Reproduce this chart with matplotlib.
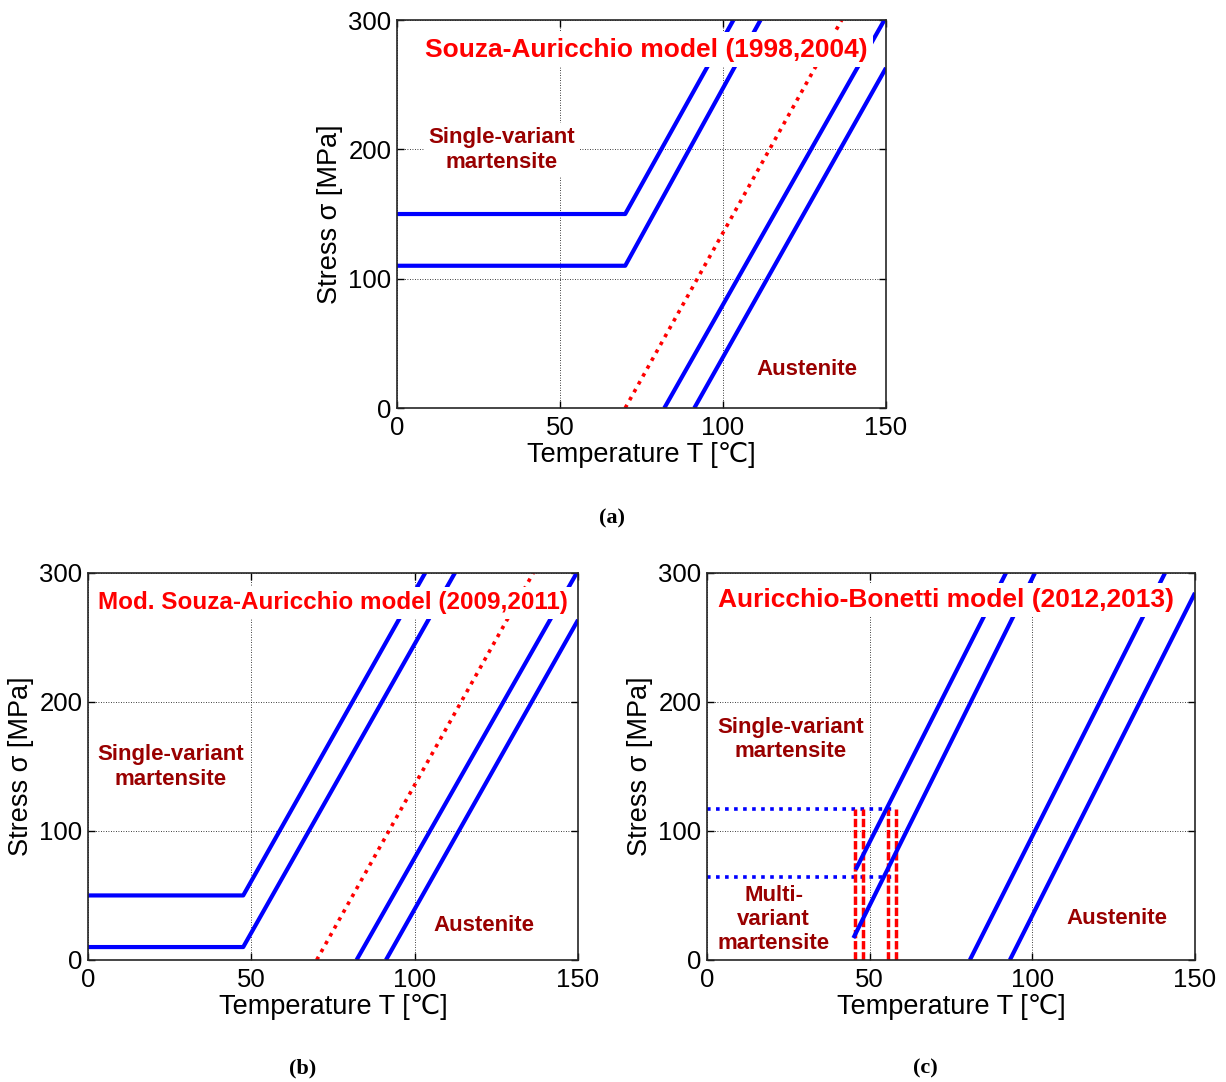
import matplotlib
matplotlib.use('Agg')
import matplotlib.pyplot as plt

plt.rcParams['font.family'] = ['Liberation Sans', 'DejaVu Sans']

# ---- data (T in degC, stress in MPa) ----
# panel (a) Souza-Auricchio
a_up_T = [0, 70, 103.2]
a_up_s = [150, 150, 300]
a_lo_T = [0, 70, 111.5]
a_lo_s = [110, 110, 300]
a_red_T = [70, 136.4]
a_red_s = [0, 300]
a_af_T = [82.0, 149.5]
a_af_s = [0, 300]
a_as_T = [91.2, 150]
a_as_s = [0, 263]

# panel (b) modified Souza-Auricchio
b_up_T = [0, 47.5, 103.2]
b_up_s = [50, 50, 300]
b_lo_T = [0, 47.5, 112.3]
b_lo_s = [10, 10, 300]
b_red_T = [70, 136.3]
b_red_s = [0, 300]
b_af_T = [82.2, 149.6]
b_af_s = [0, 300]
b_as_T = [91.2, 150]
b_as_s = [0, 263.6]

# panel (c) Auricchio-Bonetti
c_up_T = [45.7, 91.9]
c_up_s = [70, 300]
c_lo_T = [45.0, 100.8]
c_lo_s = [17, 300]
c_af_T = [80.8, 140.8]
c_af_s = [0, 300]
c_as_T = [93.1, 150]
c_as_s = [0, 284.5]
c_hdot_s = [117, 64]          # blue dotted levels
c_hdot_T = [0, 57.8]
c_vdash_T = [45.5, 48.0, 55.7, 58.1]   # red dashed verticals
c_vdash_s = [0, 117]

xticks = [0, 50, 100, 150]
yticks = [0, 100, 200, 300]

BLUE = '#0000ff'
RED = '#ff0000'
DRED = '#990000'


def setup_ax(ax):
    ax.set_xlim(0, 150)
    ax.set_ylim(0, 300)
    ax.set_xticks(xticks)
    ax.set_yticks(yticks)
    ax.tick_params(direction='in', length=5, width=1, top=True, right=True,
                   labelsize=18.5)
    ax.tick_params(axis='x', pad=6)
    ax.tick_params(axis='y', pad=4)
    ax.grid(True, color='k', linestyle=(0, (1, 2)), linewidth=0.6)
    ax.set_axisbelow(True)
    for sp in ax.spines.values():
        sp.set_linewidth(1.2)
        sp.set_color('#262626')
    ax.set_xlabel('Temperature T [℃]', fontsize=19.5)
    ax.set_ylabel('Stress σ [MPa]', fontsize=19.5)
    ax.xaxis.set_label_coords(0.5, -0.088)
    ax.yaxis.set_label_coords(-0.11, 0.5)


def box_text(ax, x, y, s, color, size):
    ax.text(x, y, s, color=color, fontsize=size, fontweight='bold',
            ha='center', va='center', linespacing=1.2,
            bbox=dict(boxstyle='square,pad=0.2', fc='white', ec='none'))


fig = plt.figure(figsize=(12.26, 10.82), dpi=100)
ax_a = fig.add_axes([0.3238, 0.6229, 0.3989, 0.3586])
ax_b = fig.add_axes([0.0718, 0.1128, 0.3997, 0.3577])
ax_c = fig.add_axes([0.5767, 0.1128, 0.3980, 0.3577])

lw = 3
# (a)
ax = ax_a
setup_ax(ax)
for T, s in [(a_up_T, a_up_s), (a_lo_T, a_lo_s), (a_af_T, a_af_s), (a_as_T, a_as_s)]:
    ax.plot(T, s, color=BLUE, lw=lw, solid_capstyle='butt')
ax.plot(a_red_T, a_red_s, color=RED, lw=2.6, linestyle=(0, (1, 1.5)))
box_text(ax, 76.5, 277, 'Souza-Auricchio model (1998,2004)', RED, 19)
box_text(ax, 32.2, 199.5, 'Single-variant\nmartensite', DRED, 16)
box_text(ax, 125.7, 29.4, 'Austenite', DRED, 16)

# (b)
ax = ax_b
setup_ax(ax)
for T, s in [(b_up_T, b_up_s), (b_lo_T, b_lo_s), (b_af_T, b_af_s), (b_as_T, b_as_s)]:
    ax.plot(T, s, color=BLUE, lw=lw, solid_capstyle='butt')
ax.plot(b_red_T, b_red_s, color=RED, lw=2.6, linestyle=(0, (1, 1.5)))
box_text(ax, 75, 276.7, 'Mod. Souza-Auricchio model (2009,2011)', RED, 17.5)
box_text(ax, 25.3, 149.6, 'Single-variant\nmartensite', DRED, 16)
box_text(ax, 121.2, 26.4, 'Austenite', DRED, 16)

# (c)
ax = ax_c
setup_ax(ax)
for lev in c_hdot_s:
    ax.plot(c_hdot_T, [lev, lev], color=BLUE, lw=2.6, linestyle=(0, (1, 1.5)))
for T in c_vdash_T:
    ax.plot([T, T], c_vdash_s, color=RED, lw=2.5, linestyle=(0, (2.4, 0.8)))
for T, s in [(c_up_T, c_up_s), (c_lo_T, c_lo_s), (c_af_T, c_af_s), (c_as_T, c_as_s)]:
    ax.plot(T, s, color=BLUE, lw=lw, solid_capstyle='butt')
box_text(ax, 73.5, 279, 'Auricchio-Bonetti model (2012,2013)', RED, 19)
box_text(ax, 25.8, 171, 'Single-variant\nmartensite', DRED, 16)
box_text(ax, 20.5, 31.3, 'Multi-\nvariant\nmartensite', DRED, 16)
box_text(ax, 126, 31.8, 'Austenite', DRED, 16)

cap = dict(fontsize=16, fontweight='bold', family='Liberation Serif',
           ha='center', va='center')
fig.text(612 / 1226, 1 - 518 / 1082, '(a)', **cap)
fig.text(303 / 1226, 1 - 1068 / 1082, '(b)', **cap)
fig.text(925 / 1226, 1 - 1068 / 1082, '(c)', **cap)

fig.savefig('out.png', dpi=100)
